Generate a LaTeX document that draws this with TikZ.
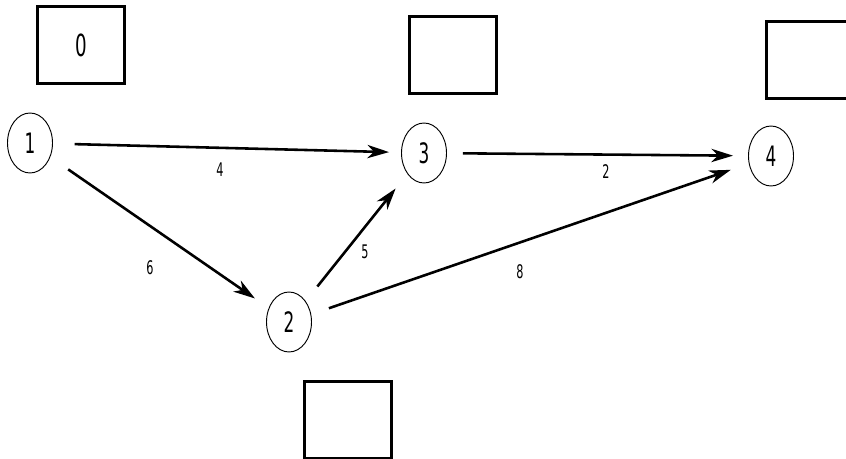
\documentclass[tikz,border=0pt]{standalone}
\usepackage{fontspec}
\newfontfamily\plotfont[FakeStretch=0.6]{DejaVu Sans}
\usetikzlibrary{arrows.meta,shapes.geometric}

\begin{document}
\begin{tikzpicture}[
  x=0.03cm,y=-0.03cm,
  event/.style={ellipse,draw,line width=0.8pt,minimum width=1.35cm,minimum height=1.8cm,
                inner sep=0pt,font=\plotfont\fontsize{24}{24}\selectfont},
  timebox/.style={draw,line width=2.2pt,minimum width=2.6cm,minimum height=2.3cm,
                  inner sep=0pt,font=\plotfont\fontsize{26}{26}\selectfont},
  act/.style={-{Stealth[length=6.5mm,width=4mm,inset=2mm]},line width=2.2pt},
  dur/.style={font=\plotfont\fontsize{16}{16}\selectfont,inner sep=0pt}
]
\useasboundingbox (0,0) rectangle (846,459);
% events
\node[event] (n1) at (30,143) {1};
\node[event] (n2) at (289,322) {2};
\node[event] (n3) at (424,153) {3};
\node[event] (n4) at (771,156) {4};
% earliest times
\node[timebox] (t1) at (81,45) {0};
\node[timebox] (t3) at (453,55) {};
\node[timebox] (t4) at (810,60) {};
\node[timebox] (t2) at (348,420) {};
% activities
\draw[act,shorten <=6.5mm,shorten >=3.6mm] (n1) -- (n3);
\draw[act,shorten <=6.5mm,shorten >=5mm] (n1) -- (n2);
\draw[act,shorten <=5.6mm,shorten >=5.6mm] (n2) -- (n3);
\draw[act,shorten <=5.6mm,shorten >=5.7mm] (n2) -- (n4);
\draw[act,shorten <=4.8mm,shorten >=4.5mm] (n3) -- (n4);
% durations
\node[dur] (d13) at (220,170) {4};
\node[dur] (d12) at (150,268) {6};
\node[dur] (d23) at (365,252) {5};
\node[dur] (d24) at (520,272) {8};
\node[dur] (d34) at (606,172) {2};
\end{tikzpicture}
\end{document}
